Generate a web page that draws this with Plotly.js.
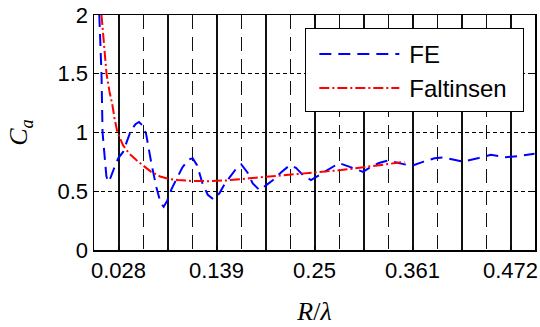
<!DOCTYPE html>
<html>
<head>
<meta charset="utf-8">
<script src="https://cdn.plot.ly/plotly-3.0.1.min.js"></script>
<style>html,body{margin:0;padding:0;background:#fff;}#chart{width:540px;height:327px;}</style>
</head>
<body>
<div id="chart"></div>
<script>
// FE (finite element) result
const feX = [0.006, 0.0085, 0.0097, 0.0122, 0.014, 0.016, 0.019, 0.023, 0.0274, 0.033, 0.042, 0.047, 0.051, 0.055, 0.059, 0.065, 0.0705, 0.0755, 0.079, 0.083, 0.088, 0.093, 0.100, 0.107, 0.112, 0.117, 0.123, 0.129, 0.1355, 0.142, 0.148, 0.154, 0.161, 0.167, 0.174, 0.180, 0.1876, 0.195, 0.203, 0.212, 0.2217, 0.229, 0.237, 0.246, 0.2557, 0.267, 0.278, 0.29, 0.305, 0.314, 0.323, 0.333, 0.346, 0.36, 0.373, 0.386, 0.3955, 0.407, 0.418, 0.435, 0.450, 0.467, 0.482, 0.4994];
const feY = [2.0, 1.5, 1.0, 0.74, 0.63, 0.58, 0.62, 0.70, 0.78, 0.835, 1.02, 1.07, 1.09, 1.06, 0.99, 0.74, 0.54, 0.40, 0.368, 0.42, 0.52, 0.595, 0.70, 0.77, 0.78, 0.72, 0.566, 0.47, 0.43, 0.48, 0.56, 0.62, 0.69, 0.728, 0.66, 0.566, 0.51, 0.55, 0.595, 0.66, 0.72, 0.70, 0.637, 0.595, 0.637, 0.69, 0.74, 0.707, 0.665, 0.707, 0.74, 0.76, 0.74, 0.716, 0.75, 0.78, 0.787, 0.77, 0.753, 0.78, 0.81, 0.79, 0.80, 0.82];
// Faltinsen result
const faX = [0.0085, 0.011, 0.0142, 0.0175, 0.0206, 0.0235, 0.0266, 0.033, 0.040, 0.048, 0.0557, 0.0648, 0.075, 0.085, 0.095, 0.11, 0.13, 0.15, 0.176, 0.2, 0.23, 0.26, 0.28, 0.301, 0.325, 0.352];
const faY = [2.0, 1.75, 1.5, 1.35, 1.245, 1.11, 1.0, 0.89, 0.82, 0.765, 0.72, 0.665, 0.625, 0.605, 0.595, 0.588, 0.586, 0.592, 0.61, 0.625, 0.645, 0.665, 0.68, 0.70, 0.725, 0.75];
// axis ticks
const xLabelVals = [0.02778, 0.13889, 0.25, 0.36111, 0.47222];
const xLabelText = ["0.028", "0.139", "0.25", "0.361", "0.472"];
const xSolidVals = [0.08333, 0.19444, 0.30556, 0.41667];
const xDashVals = [0.05556, 0.11111, 0.16667, 0.22222, 0.27778, 0.33333, 0.38889, 0.44444];
const yTickVals = [0, 0.5, 1, 1.5, 2];
const yTickText = ["0", "0.5", "1", "1.5", "2"];

const traces = [
  {x: feX, y: feY, type: 'scatter', mode: 'lines', name: 'FE',
   line: {color: '#0000ff', width: 2, dash: '12px,7px'}},
  {x: faX, y: faY, type: 'scatter', mode: 'lines', name: 'Faltinsen',
   line: {color: '#ff0000', width: 2, dash: '10px,3px,2px,3px'}},
  {x: [0.25], y: [null], type: 'scatter', mode: 'lines', xaxis: 'x2', yaxis: 'y', showlegend: false, hoverinfo: 'skip'}
];

const GRID = '#111';
const layout = {
  width: 540, height: 327,
  margin: {l: 94, r: 5, t: 15, b: 77},
  paper_bgcolor: '#fff', plot_bgcolor: 'rgba(0,0,0,0)',
  font: {family: 'Liberation Sans, Arial, sans-serif', size: 22, color: '#000'},
  showlegend: true,
  legend: {x: 0.4785, xanchor: 'left', y: 0.934, yanchor: 'top',
    bgcolor: '#fff', bordercolor: '#000', borderwidth: 1.3,
    font: {size: 24}, traceorder: 'normal', itemwidth: 93},
  xaxis: {
    range: [0, 0.5], tickmode: 'array', tickvals: xLabelVals, ticktext: xLabelText,
    showgrid: true, gridcolor: GRID, gridwidth: 2, zeroline: false,
    showline: true, linecolor: '#000', linewidth: 1.5, mirror: 'ticks',
    ticks: 'inside', ticklen: 4, tickcolor: '#000',
    minor: {tickmode: 'array', tickvals: xDashVals, showgrid: true, gridcolor: GRID, gridwidth: 1, griddash: '14px,8px', ticks: ''},
    title: {text: '<i>R</i>/<i>λ</i>', font: {family: 'Liberation Serif, serif', size: 26}, standoff: 20},
    automargin: false
  },
  xaxis2: {
    overlaying: 'x', anchor: 'y', range: [0, 0.5], tickmode: 'array', tickvals: xSolidVals,
    showticklabels: false, showgrid: true, gridcolor: GRID, gridwidth: 2, zeroline: false,
    showline: false, ticks: '', automargin: false
  },
  yaxis: {
    range: [0, 2], tickmode: 'array', tickvals: yTickVals, ticktext: yTickText,
    showgrid: true, gridcolor: '#000', gridwidth: 1.2, griddash: '4px,3px', zeroline: false,
    showline: true, linecolor: '#000', linewidth: 1.5, mirror: 'ticks',
    ticks: 'inside', ticklen: 5, tickcolor: '#000',
    title: {text: '<i>C</i><sub><i>a</i></sub>', font: {family: 'Liberation Serif, serif', size: 26}, standoff: 22},
    automargin: false
  }
};

function styleLegend(gd) {
  // lengthen legend line samples, as in the reference legend
  gd.querySelectorAll('.legend path').forEach(function (p) {
    var d = p.getAttribute('d');
    if (d && /^M\d+,0h/.test(d)) p.setAttribute('d', 'M13,0h80');
  });
  // resize the legend box to the reference's box
  var bg = gd.querySelector('.legend rect.bg');
  if (bg && !bg.dataset.resized) {
    var y0 = parseFloat(bg.getAttribute('y')) || 0;
    bg.setAttribute('y', String(y0 - 3));
    bg.setAttribute('width', '218');
    bg.setAttribute('height', '83');
    bg.dataset.resized = '1';
  }
}
Plotly.newPlot('chart', traces, layout, {displayModeBar: false, staticPlot: true}).then(function (gd) {
  styleLegend(gd);
  setTimeout(function () { styleLegend(gd); }, 0);
});
</script>
</body>
</html>
